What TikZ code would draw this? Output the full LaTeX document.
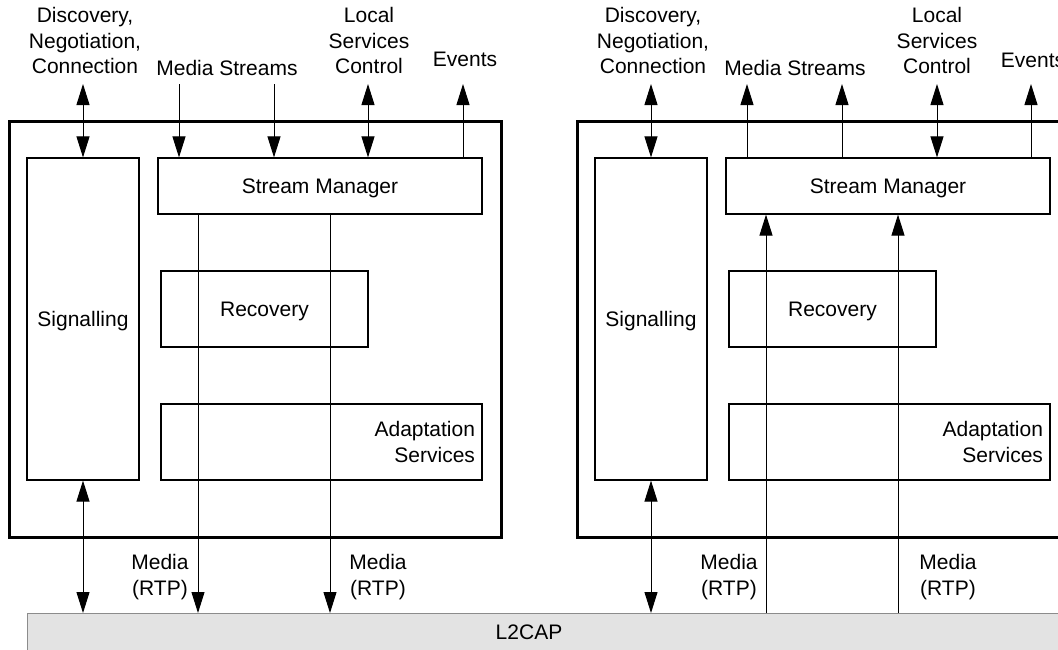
\documentclass[tikz,border=0pt]{standalone}
\usepackage{fontspec}
\setmainfont{Liberation Sans}
\usepackage{xcolor}
\usetikzlibrary{arrows.meta}
\definecolor{l2capgray}{rgb}{0.89,0.89,0.89}
\definecolor{l2capedge}{rgb}{0.55,0.55,0.55}

\begin{document}
\begin{tikzpicture}[x=1pt, y=-1pt,
    every node/.style={font=\fontsize{21}{25.5}\selectfont, inner sep=0pt},
    module/.style={draw, line width=3pt},
    block/.style={draw, line width=1.2pt},
    oneline/.style={block, text depth=0pt},
    lbl/.style={align=center, anchor=base},
    flow/.style={line width=1pt, -{Triangle[length=21pt, width=13pt]}},
    both/.style={line width=1pt, {Triangle[length=21pt, width=13pt]}-{Triangle[length=21pt, width=13pt]}}]
        \useasboundingbox (0,0) rectangle (1058,649);
        \clip (0,0) rectangle (1058,649);
        \coordinate (top) at (0,84);
        \coordinate (l2top) at (0,613);

        % L2CAP
        \filldraw[fill=l2capgray, draw=l2capedge, line width=1pt] (27,613) rectangle (1090,700);
        \node[anchor=base] (l2cap) at (529,639) {L2CAP};

        % left side
        \node[module, minimum width=492, minimum height=416] (modA) at (255,329) {};
        \node[oneline, minimum width=112, minimum height=322] (sigA) at (83,319) {Signalling};
        \node[oneline, minimum width=324, minimum height=56] (smA) at (320,186) {Stream Manager};
        \node[oneline, minimum width=207, minimum height=76] (recA) at (264.5,309) {Recovery};
        \node[block, minimum width=321, minimum height=76, text width=307, align=right] (adaA) at (321.5,442) {Adaptation\\Services};

        \node[lbl] (discA) at (85,73.5) {Discovery,\\Negotiation,\\Connection};
        \node[lbl] (msA) at (227,75) {Media Streams};
        \node[lbl] (lscA) at (369,73.5) {Local\\Services\\Control};
        \node[lbl] (evA) at (465,66.5) {Events};
        \node[lbl] (rtpA1) at (160,595) {Media\\(RTP)};
        \node[lbl] (rtpA2) at (378,595) {Media\\(RTP)};

        \coordinate (msA1) at (179,84);
        \coordinate (msA2) at (274,84);
        \coordinate (lsA) at (368,84);
        \coordinate (eA) at (463,84);
        \coordinate (mA1) at (198,613);
        \coordinate (mA2) at (330,613);

        \draw[both] (sigA.north) -- (sigA.north |- top);
        \draw[flow] (msA1) -- (msA1 |- smA.north);
        \draw[flow] (msA2) -- (msA2 |- smA.north);
        \draw[both] (lsA) -- (lsA |- smA.north);
        \draw[flow] (eA |- smA.north) -- (eA);
        \draw[both] (sigA.south) -- (sigA.south |- l2top);
        \draw[flow] (mA1 |- smA.south) -- (mA1);
        \draw[flow] (mA2 |- smA.south) -- (mA2);

        % right side
        \node[module, minimum width=492, minimum height=416] (modB) at (823,329) {};
        \node[oneline, minimum width=112, minimum height=322] (sigB) at (651,319) {Signalling};
        \node[oneline, minimum width=324, minimum height=56] (smB) at (888,186) {Stream Manager};
        \node[oneline, minimum width=207, minimum height=76] (recB) at (832.5,309) {Recovery};
        \node[block, minimum width=321, minimum height=76, text width=307, align=right] (adaB) at (889.5,442) {Adaptation\\Services};

        \node[lbl] (discB) at (653,73.5) {Discovery,\\Negotiation,\\Connection};
        \node[lbl] (msB) at (795,75) {Media Streams};
        \node[lbl] (lscB) at (937,73.5) {Local\\Services\\Control};
        \node[lbl] (evB) at (1033,67) {Events};
        \node[lbl] (rtpB1) at (729,595) {Media\\(RTP)};
        \node[lbl] (rtpB2) at (948,595) {Media\\(RTP)};

        \coordinate (msB1) at (747,84);
        \coordinate (msB2) at (842,84);
        \coordinate (lsB) at (937,84);
        \coordinate (eB) at (1031,84);
        \coordinate (mB1) at (766,613);
        \coordinate (mB2) at (898,613);

        \draw[both] (sigB.north) -- (sigB.north |- top);
        \draw[flow] (msB1 |- smB.north) -- (msB1);
        \draw[flow] (msB2 |- smB.north) -- (msB2);
        \draw[both] (lsB) -- (lsB |- smB.north);
        \draw[flow] (eB |- smB.north) -- (eB);
        \draw[both] (sigB.south) -- (sigB.south |- l2top);
        \draw[flow] (mB1) -- (mB1 |- smB.south);
        \draw[flow] (mB2) -- (mB2 |- smB.south);
    \end{tikzpicture}
\end{document}
